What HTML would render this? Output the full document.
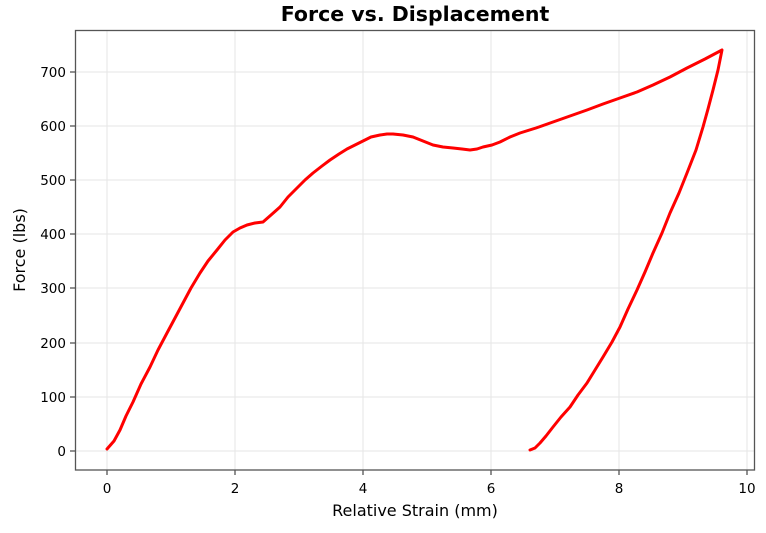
<!DOCTYPE html>
<html><head><style>
body{margin:0;background:#fff;width:766px;height:528px;overflow:hidden}
text{font-family:"DejaVu Sans","Liberation Sans",sans-serif;fill:#000}
</style></head><body>
<svg width="766" height="528" xmlns="http://www.w3.org/2000/svg">
<text x="415" y="21" font-size="20.5" font-weight="bold" text-anchor="middle" fill="#000">Force vs. Displacement</text>
<g stroke="#e6e6e6" stroke-width="1">
<line x1="107" y1="30" x2="107" y2="470"/><line x1="235" y1="30" x2="235" y2="470"/><line x1="363" y1="30" x2="363" y2="470"/><line x1="491" y1="30" x2="491" y2="470"/><line x1="619" y1="30" x2="619" y2="470"/><line x1="747" y1="30" x2="747" y2="470"/>
<line x1="76" y1="451" x2="755" y2="451"/><line x1="76" y1="397" x2="755" y2="397"/><line x1="76" y1="343" x2="755" y2="343"/><line x1="76" y1="288" x2="755" y2="288"/><line x1="76" y1="234" x2="755" y2="234"/><line x1="76" y1="180" x2="755" y2="180"/><line x1="76" y1="126" x2="755" y2="126"/><line x1="76" y1="72" x2="755" y2="72"/>
</g>
<rect x="75.5" y="30.5" width="679" height="439.5" fill="none" stroke="#555" stroke-width="1.3"/>
<g stroke="#555" stroke-width="1.3">
<line x1="107" y1="470" x2="107" y2="475"/><line x1="235" y1="470" x2="235" y2="475"/><line x1="363" y1="470" x2="363" y2="475"/><line x1="491" y1="470" x2="491" y2="475"/><line x1="619" y1="470" x2="619" y2="475"/><line x1="747" y1="470" x2="747" y2="475"/>
<line x1="70" y1="451" x2="75" y2="451"/><line x1="70" y1="397" x2="75" y2="397"/><line x1="70" y1="343" x2="75" y2="343"/><line x1="70" y1="288" x2="75" y2="288"/><line x1="70" y1="234" x2="75" y2="234"/><line x1="70" y1="180" x2="75" y2="180"/><line x1="70" y1="126" x2="75" y2="126"/><line x1="70" y1="72" x2="75" y2="72"/>
</g>
<g font-size="13.5" text-anchor="middle">
<text x="107" y="493">0</text><text x="235" y="493">2</text><text x="363" y="493">4</text><text x="491" y="493">6</text><text x="619" y="493">8</text><text x="747" y="493">10</text>
</g>
<g font-size="13.5" text-anchor="end">
<text x="66" y="456">0</text><text x="66" y="402">100</text><text x="66" y="348">200</text><text x="66" y="293">300</text><text x="66" y="239">400</text><text x="66" y="185">500</text><text x="66" y="131">600</text><text x="66" y="77">700</text>
</g>
<text x="415" y="516" font-size="16" text-anchor="middle">Relative Strain (mm)</text>
<text transform="translate(25,250) rotate(-90)" font-size="16" text-anchor="middle">Force (lbs)</text>
<polyline fill="none" stroke="#ff0000" stroke-width="3" stroke-linejoin="round" stroke-linecap="round"
points="107,449 114,441 120,430 126,416 133,402 141,384 150,367 158,350 167,333 175,318 183,303 191,288 200,273 208,261 217,250 225,240 233,232 240,228 247,225 255,223 263,222 271,215 280,207 288,197 297,188 305,180 313,173 322,166 330,160 339,154 347,149 355,145 363,141 371,137 380,135 387,134 393,134 403,135 413,137 423,141 433,145 443,147 453,148 462,149 470,150 477,149 483,147 492,145 500,142 510,137 520,133 536,128 553,122 570,116 587,110 603,104 620,98 637,92 653,85 670,77 687,68 705,59 722,50 718,70 713,90 708,109 703,127 696,150 687,173 679,193 670,213 662,233 653,253 645,272 637,290 628,309 620,327 612,342 603,357 595,370 587,383 578,395 570,407 561,417 553,427 546,436 540,443 535,448 530,450"/>
</svg>
</body></html>
